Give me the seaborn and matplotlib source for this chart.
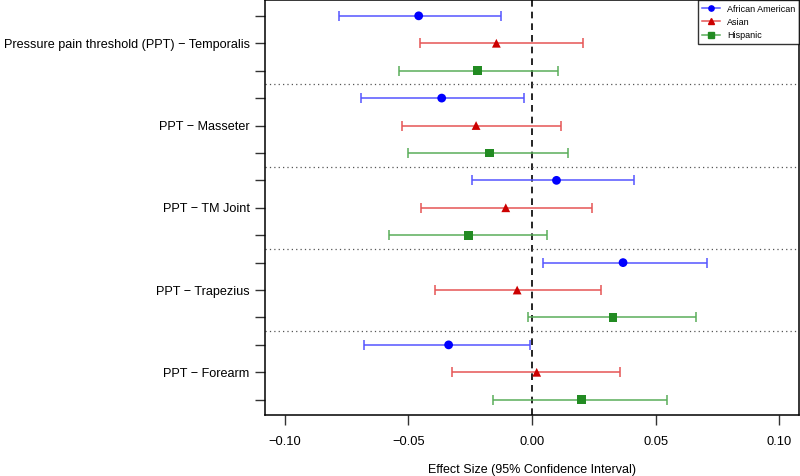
import numpy as np
import pandas as pd
import matplotlib
matplotlib.use("Agg")
import matplotlib.pyplot as plt
import seaborn as sns
from matplotlib.lines import Line2D

# outcomes (top to bottom) and groups
outcomes = ["Pressure pain threshold (PPT) \u2212 Temporalis", "PPT \u2212 Masseter",
            "PPT \u2212 TM Joint", "PPT \u2212 Trapezius", "PPT \u2212 Forearm"]
groups = ["African American", "Asian", "Hispanic"]

# estimates and 95% CI, one list per group, in outcome order
est_aa = [-0.0458, -0.0365, 0.0099, 0.0368, -0.0337]
lo_aa = [-0.0779, -0.0690, -0.0242, 0.0044, -0.0678]
hi_aa = [-0.0126, -0.0034, 0.0412, 0.0706, -0.0010]

est_as = [-0.0144, -0.0226, -0.0106, -0.0060, 0.0019]
lo_as = [-0.0454, -0.0526, -0.0447, -0.0392, -0.0325]
hi_as = [0.0207, 0.0119, 0.0244, 0.0279, 0.0357]

est_hi = [-0.0219, -0.0171, -0.0257, 0.0327, 0.0200]
lo_hi = [-0.0539, -0.0503, -0.0577, -0.0017, -0.0159]
hi_hi = [0.0107, 0.0147, 0.0061, 0.0662, 0.0547]

x_ticks = [-0.10, -0.05, 0.00, 0.05, 0.10]

rows = []
for gi, (g, est, lo, hi) in enumerate(zip(groups, [est_aa, est_as, est_hi],
                                          [lo_aa, lo_as, lo_hi], [hi_aa, hi_as, hi_hi])):
    for oi, o in enumerate(outcomes):
        rows.append({"outcome": o, "group": g, "est": est[oi], "lo": lo[oi], "hi": hi[oi],
                     "pos": 3 * oi + gi + 1})
df = pd.DataFrame(rows)

line_cols = {"African American": "#5555ff", "Asian": "#e65555", "Hispanic": "#5aad5a"}
mark_cols = {"African American": "#0000ff", "Asian": "#cc0000", "Hispanic": "#228b22"}
markers = {"African American": "o", "Asian": "^", "Hispanic": "s"}

plt.rcParams["font.family"] = ["Liberation Sans", "DejaVu Sans"]
fig = plt.figure(figsize=(8, 4.76), dpi=100)
ax = fig.add_axes([0.331, 0.128, 0.668, 0.871])

for g in groups:
    d = df[df["group"] == g]
    ax.errorbar(d["est"], d["pos"], xerr=[d["est"] - d["lo"], d["hi"] - d["est"]],
                fmt="none", ecolor=line_cols[g], elinewidth=1.1, capsize=3.8, capthick=1.1, zorder=2)

sns.scatterplot(data=df, x="est", y="pos", hue="group", style="group",
                palette=mark_cols, markers=markers, s=40, edgecolor="none",
                legend=False, ax=ax, zorder=3)

ax.axvline(0, color="black", linestyle=(0, (4, 3)), linewidth=1.2, zorder=1)
for b in [3.5, 6.5, 9.5, 12.5]:
    ax.axhline(b, color="#555555", linestyle=(0, (1, 2.5)), linewidth=0.9, zorder=1)

ax.set_xlim(-0.108, 0.108)
ax.set_ylim(15.56, 0.44)
ax.set_xticks(x_ticks)
ax.set_xticklabels([f"{v:.2f}".replace("-", "\u2212") for v in x_ticks], fontsize=9.3)
ax.set_yticks(np.arange(1, 16))
ax.set_yticklabels(["" if (i % 3) != 1 else outcomes[i // 3] for i in range(15)], fontsize=9.1)
ax.tick_params(axis="both", direction="out", length=7, width=1, color="#333333")
ax.tick_params(axis="y", pad=4)
ax.tick_params(axis="x", pad=8)
ax.set_xlabel("Effect Size (95% Confidence Interval)", fontsize=9, labelpad=11.5)
ax.set_ylabel("")
for s in ax.spines.values():
    s.set_linewidth(1.1)
    s.set_color("black")

handles = [Line2D([0], [0], color=line_cols[g], marker=markers[g], markerfacecolor=mark_cols[g],
                  markeredgecolor=mark_cols[g], markersize=3.8, linewidth=1.1) for g in groups]
leg = ax.legend(handles, groups, loc="upper right", fontsize=6.5, frameon=True, fancybox=False,
                borderaxespad=0, handlelength=2.0, handletextpad=0.75, borderpad=0.45, labelspacing=0.45)
leg.get_frame().set_edgecolor("black")
leg.get_frame().set_linewidth(1.0)

fig.savefig("out.png", dpi=100)
